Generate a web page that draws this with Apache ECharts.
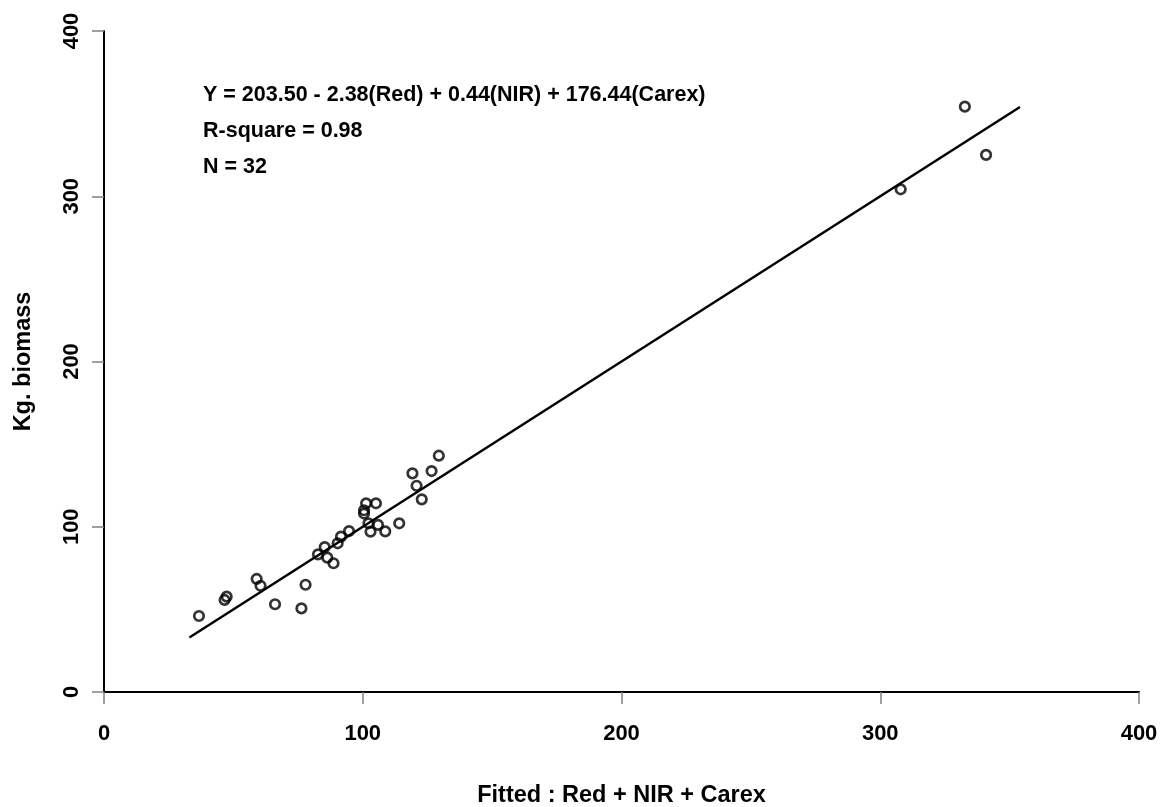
<!DOCTYPE html>
<html>
<head>
<meta charset="utf-8">
<script src="https://cdn.jsdelivr.net/npm/echarts@6/dist/echarts.min.js"></script>
<style>html,body{margin:0;padding:0;background:#fff}#c{width:1162px;height:807px}</style>
</head>
<body>
<div id="c"></div>
<script>
// Fitted values (x) and observed biomass (y)
var fitted = [36.7, 46.6, 47.4, 59.0, 60.5, 66.1, 76.3, 77.9, 82.7, 85.3, 86.3, 88.7, 90.3, 91.6, 94.7,
  101.3, 105.1, 100.5, 100.5, 102.2, 103.0, 105.9, 108.7, 114.1, 119.2, 120.8, 122.8, 126.6, 129.4,
  307.9, 332.7, 340.9];
var biomass = [46.0, 55.7, 57.7, 68.4, 64.3, 53.1, 50.6, 64.9, 83.3, 87.7, 81.3, 77.9, 90.0, 94.0, 97.4,
  114.2, 114.2, 110.0, 108.0, 102.1, 97.0, 101.1, 97.2, 102.1, 132.3, 124.8, 116.6, 133.7, 143.0,
  304.2, 354.2, 325.0];
var fitLine = [[33, 33], [354, 354]];
var ticks = [0, 100, 200, 300, 400];
var annot = ['Y = 203.50 - 2.38(Red) + 0.44(NIR) + 176.44(Carex)', 'R-square = 0.98', 'N = 32'];
var xName = 'Fitted : Red + NIR + Carex';
var yName = 'Kg. biomass';

var FONT = '"Liberation Sans", Arial, sans-serif';
var pts = fitted.map(function (v, i) { return [v, biomass[i]]; });
var chart = echarts.init(document.getElementById('c'));
var axisCommon = {
  type: 'value', min: ticks[0], max: ticks[ticks.length - 1], interval: 100,
  splitLine: { show: false },
  axisLine: { show: true, lineStyle: { color: '#000', width: 2 } },
  axisTick: { show: true, length: 12, lineStyle: { color: '#808080', width: 1.5 } },
  nameTextStyle: { fontFamily: FONT, fontWeight: 'bold', fontSize: 23.5, color: '#000' }
};
chart.setOption({
  animation: false,
  backgroundColor: '#fff',
  grid: { left: 104, right: 23, top: 31, bottom: 115, containLabel: false, outerBoundsMode: 'none' },
  xAxis: Object.assign({}, axisCommon, {
    name: xName, nameLocation: 'middle', nameGap: 92,
    axisLabel: { margin: 31, fontFamily: FONT, fontWeight: 'bold', fontSize: 22, color: '#000' }
  }),
  yAxis: Object.assign({}, axisCommon, {
    name: yName, nameLocation: 'middle', nameGap: 68, nameRotate: 90,
    axisLabel: { margin: 21, rotate: 90, fontFamily: FONT, fontWeight: 'bold', fontSize: 22, color: '#000' }
  }),
  graphic: annot.map(function (t, i) {
    return { type: 'text', left: 203, top: 84 + i * 36,
      style: { text: t, fontFamily: FONT, fontWeight: 'bold', fontSize: 21.5, fill: '#000' } };
  }),
  series: [
    { type: 'line', data: fitLine, symbol: 'none', lineStyle: { color: '#000', width: 2.5 }, z: 2 },
    { type: 'scatter', data: pts, symbol: 'circle', symbolSize: 9.5,
      itemStyle: { color: 'rgba(0,0,0,0)', borderColor: '#000', borderWidth: 2.7 }, z: 3 }
  ]
});
</script>
</body>
</html>
